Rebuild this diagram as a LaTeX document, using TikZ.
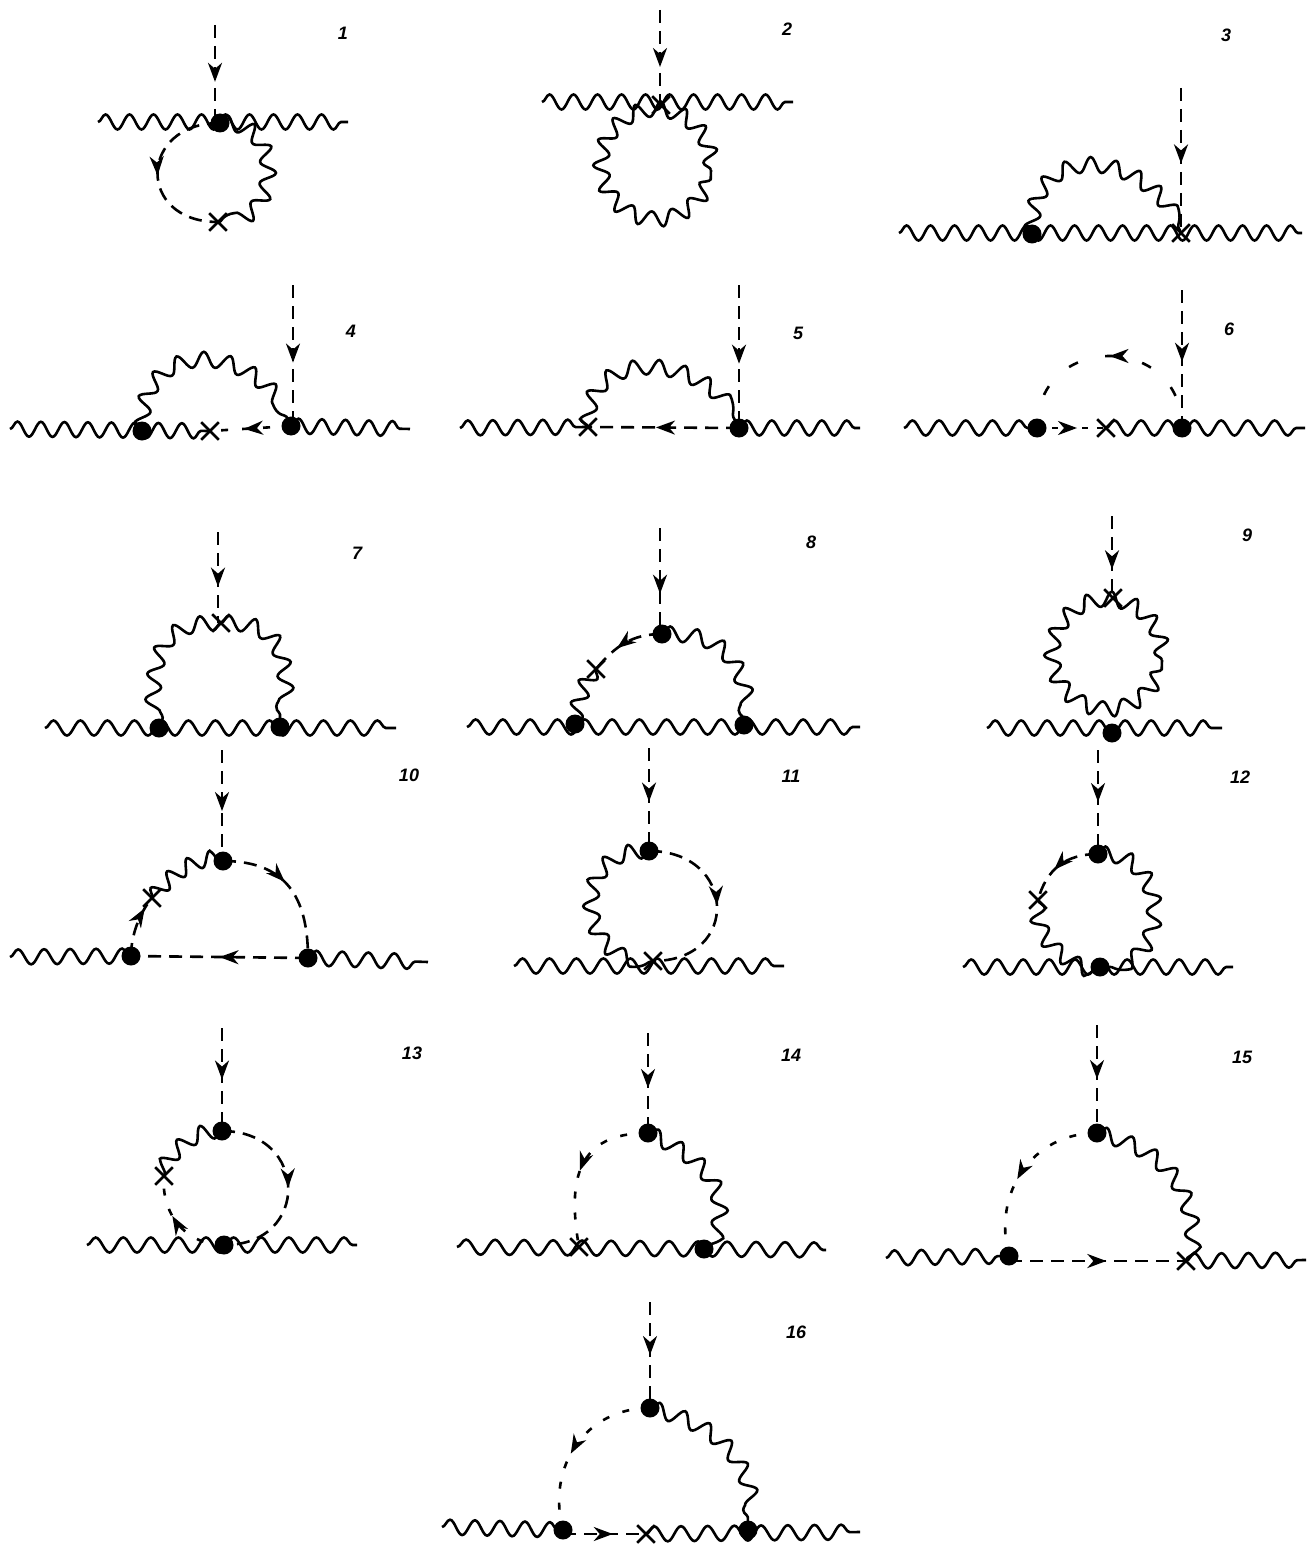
\documentclass[tikz,border=0pt]{standalone}
\usepackage{fontspec}
\setmainfont{Liberation Sans}
\usetikzlibrary{arrows.meta,decorations.pathmorphing,decorations.markings,shapes.misc}
\tikzset{
  wavy/.style={decorate,decoration={snake,segment length=#1,amplitude=7.5pt}},
  wavy/.default=26pt,
  scalar/.style={dash pattern=on 13pt off 8pt},
  ghost/.style={dash pattern=on 7pt off 14pt},
  flow/.style={postaction={decorate,decoration={markings,
    mark=at position #1 with {\arrow{Stealth[length=19pt,width=14pt,inset=6pt]}}}}},
  vertex/.style={circle,fill=black,minimum size=19pt,inner sep=0pt},
  crossing/.style={cross out,draw,minimum size=15pt,inner sep=0pt},
  number/.style={font=\fontsize{18}{18}\selectfont\bfseries\itshape}
}
\begin{document}
\begin{tikzpicture}[x=1pt,y=-1pt,line width=2.6pt]
\useasboundingbox (0,0) rectangle (1315,1546);

% numbers
\node[number] (lab1) at (343,33) {1};
\node[number] (lab2) at (787,29) {2};
\node[number] (lab3) at (1226,35) {3};
\node[number] (lab4) at (351,331) {4};
\node[number] (lab5) at (798,333) {5};
\node[number] (lab6) at (1229,329) {6};
\node[number] (lab7) at (357,553) {7};
\node[number] (lab8) at (811,542) {8};
\node[number] (lab9) at (1247,535) {9};
\node[number] (lab10) at (409,775) {10};
\node[number] (lab11) at (791,776) {11};
\node[number] (lab12) at (1240,777) {12};
\node[number] (lab13) at (412,1053) {13};
\node[number] (lab14) at (791,1055) {14};
\node[number] (lab15) at (1242,1057) {15};
\node[number] (lab16) at (796,1332) {16};

% 1
\coordinate (in1) at (215,25);
\coordinate (l1) at (98,122);
\coordinate (r1) at (348,122);
\node[vertex] (v1) at (220,123) {};
\node[crossing] (x1) at (218,222) {};
\draw[wavy=24pt] (l1) -- (r1);
\draw[scalar,flow=0.58] (in1) -- (in1 |- v1);
\draw[scalar,flow=0.52] (v1.center) to[out=180,in=180,distance=82] (x1.center);
\draw[wavy=24pt] (v1.center) to[out=0,in=0,distance=58] (x1.center);

% 2
\coordinate (in2) at (660,10);
\coordinate (l2) at (542,102);
\coordinate (r2) at (793,102);
\coordinate (c2) at (656,170);
\node[crossing] (x2) at (661,105) {};
\draw[wavy=24pt] (l2) -- (r2);
\draw[scalar,flow=0.6] (in2) -- (in2 |- x2);
\draw[wavy=23pt] (c2) circle[radius=55pt];

% 3
\coordinate (in3) at (1181,88);
\coordinate (l3) at (899,233);
\coordinate (r3) at (1302,233);
\node[vertex] (v3) at (1032,234) {};
\node[crossing] (x3) at (1181,233) {};
\draw[wavy=24pt] (l3) -- (r3);
\draw[scalar,flow=0.52] (in3) -- (x3.center);
\draw[wavy=24pt] (v3.center) to[out=90,in=115,distance=88] (x3.center);

% 4
\coordinate (in4) at (293,285);
\coordinate (l4) at (10,429);
\coordinate (r4) at (410,429);
\node[vertex] (a4) at (142,431) {};
\node[vertex] (b4) at (291,426) {};
\node[crossing] (x4) at (210,431) {};
\draw[wavy=23.5pt] (l4) -- (x4.center);
\draw[wavy=23.5pt] (b4.center) -- (r4);
\draw[scalar,flow=0.55] (in4) -- (in4 |- b4);
\draw[ghost,flow=0.58] (b4.center) -- (x4.center);
\draw[wavy=25pt] (a4.center) to[out=90,in=115,distance=88] (b4.center);

% 5
\coordinate (in5) at (739,285);
\coordinate (l5) at (460,428);
\coordinate (r5) at (860,428);
\node[vertex] (v5) at (739,428) {};
\node[crossing] (x5) at (588,427) {};
\draw[wavy=25pt] (l5) -- (x5.center);
\draw[wavy=25pt] (v5.center) -- (r5);
\draw[scalar,flow=0.55] (in5) -- (v5.center);
\draw[scalar,flow=0.55] (v5.center) -- (x5.center);
\draw[wavy=25pt] (x5.center) to[out=90,in=115,distance=76] (v5.center);

% 6
\coordinate (in6) at (1182,290);
\coordinate (l6) at (904,428);
\coordinate (r6) at (1305,428);
\node[vertex] (a6) at (1037,428) {};
\node[vertex] (b6) at (1182,428) {};
\node[crossing] (x6) at (1106,428) {};
\draw[wavy=26.7pt] (l6) -- (a6.center);
\draw[wavy=26.7pt] (x6.center) -- (r6);
\draw[scalar,flow=0.52] (in6) -- (b6.center);
\draw[dash pattern=on 6pt off 9pt,flow=0.58] (a6.center) -- (x6.center);
\draw[dash pattern=on 10pt off 28pt,dash phase=5pt,flow=0.5] (b6.center) to[out=90,in=90,distance=96] (a6.center);

% 7
\coordinate (in7) at (218,532);
\coordinate (l7) at (45,728);
\coordinate (r7) at (396,728);
\node[vertex] (a7) at (159,728) {};
\node[vertex] (b7) at (280,727) {};
\node[crossing] (x7) at (221,623) {};
\draw[wavy=27pt] (l7) -- (r7);
\draw[scalar,flow=0.6] (in7) -- (in7 |- x7);
\draw[wavy=25pt] (x7.center) to[out=180,in=90,distance=62] (a7.center);
\draw[wavy=25pt] (x7.center) to[out=0,in=90,distance=62] (b7.center);

% 8
\coordinate (in8) at (660,528);
\coordinate (l8) at (467,727);
\coordinate (r8) at (860,727);
\node[vertex] (v8) at (662,634) {};
\node[vertex] (a8) at (575,724) {};
\node[vertex] (b8) at (744,725) {};
\node[crossing] (x8) at (596,669) {};
\draw[wavy=27.3pt] (l8) -- (r8);
\draw[scalar,flow=0.62] (in8) -- (in8 |- v8);
\draw[wavy] (v8.center) to[out=0,in=95,distance=60] (b8.center);
\draw[scalar,flow=0.62] (v8.center) to[out=180,in=50,distance=30] (x8.center);
\draw[wavy=22pt] (x8.center) to[out=230,in=70,distance=20] (a8.center);

% 9
\coordinate (in9) at (1112,516);
\coordinate (l9) at (987,728);
\coordinate (r9) at (1222,728);
\coordinate (c9) at (1107,660);
\node[vertex] (v9) at (1112,733) {};
\node[crossing] (x9) at (1113,598) {};
\draw[wavy] (l9) -- (r9);
\draw[scalar,flow=0.65] (in9) -- (in9 |- x9);
\draw[wavy=23pt] (c9) circle[radius=55pt];

% 10
\coordinate (in10) at (222,750);
\coordinate (l10) at (10,957);
\coordinate (r10) at (428,962);
\node[vertex] (v10) at (223,861) {};
\node[vertex] (a10) at (131,956) {};
\node[vertex] (b10) at (308,958) {};
\node[crossing] (x10) at (152,898) {};
\draw[wavy] (l10) -- (a10.center);
\draw[wavy] (b10.center) -- (r10);
\draw[scalar,flow=0.55] (in10) -- (in10 |- v10);
\draw[scalar,flow=0.5] (b10.center) -- (a10.center);
\draw[scalar,flow=0.45] (v10.center) to[out=0,in=90,distance=62] (b10.center);
\draw[scalar,flow=0.8] (a10.center) to[out=90,in=230,distance=20] (x10.center);
\draw[wavy=22pt] (x10.center) to[out=50,in=180,distance=30] (v10.center);

% 11
\coordinate (in11) at (649,748);
\coordinate (l11) at (514,966);
\coordinate (r11) at (784,966);
\node[vertex] (v11) at (649,851) {};
\node[crossing] (x11) at (653,961) {};
\draw[wavy=27pt] (l11) -- (r11);
\draw[scalar,flow=0.52] (in11) -- (v11.center);
\draw[wavy=24pt] (v11.center) to[out=180,in=180,distance=72] (x11.center);
\draw[scalar,flow=0.5] (v11.center) to[out=0,in=0,distance=88] (x11.center);

% 12
\coordinate (in12) at (1098,750);
\coordinate (l12) at (963,967);
\coordinate (r12) at (1233,967);
\node[vertex] (v12) at (1098,854) {};
\node[vertex] (a12) at (1100,967) {};
\node[crossing] (x12) at (1038,900) {};
\draw[wavy] (l12) -- (r12);
\draw[scalar,flow=0.5] (in12) -- (v12.center);
\draw[wavy=24pt] (v12.center) to[out=0,in=0,distance=66] (a12.center);
\draw[scalar,flow=0.58] (v12.center) to[out=180,in=75,distance=32] (x12.center);
\draw[wavy=24pt] (x12.center) to[out=265,in=165,distance=34] (a12.center);

% 13
\coordinate (in13) at (222,1028);
\coordinate (l13) at (87,1245);
\coordinate (r13) at (357,1245);
\node[vertex] (v13) at (222,1131) {};
\node[vertex] (a13) at (224,1245) {};
\node[crossing] (x13) at (164,1176) {};
\draw[wavy=27.6pt] (l13) -- (r13);
\draw[scalar,flow=0.5] (in13) -- (v13.center);
\draw[scalar,flow=0.5] (v13.center) to[out=0,in=0,distance=87] (a13.center);
\draw[wavy=24pt] (v13.center) to[out=180,in=60,distance=25] (x13.center);
\draw[ghost,flow=0.6] (a13.center) to[out=180,in=265,distance=38] (x13.center);

% 14
\coordinate (in14) at (648,1033);
\coordinate (l14) at (457,1247);
\coordinate (r14) at (826,1250);
\node[vertex] (v14) at (648,1133) {};
\node[vertex] (a14) at (704,1249) {};
\node[crossing] (x14) at (579,1247) {};
\draw[wavy=29pt] (l14) -- (r14);
\draw[scalar,flow=0.55] (in14) -- (v14.center);
\draw[wavy] (v14.center) to[out=-25,in=65,distance=62] (a14.center);
\draw[ghost,flow=0.52] (v14.center) to[out=180,in=100,distance=70] (x14.center);

% 15
\coordinate (in15) at (1097,1025);
\coordinate (l15) at (886,1258);
\coordinate (r15) at (1306,1260);
\node[vertex] (v15) at (1097,1133) {};
\node[vertex] (a15) at (1009,1256) {};
\node[crossing] (x15) at (1186,1261) {};
\draw[wavy=27pt] (l15) -- (a15.center);
\draw[wavy=27pt] (x15.center) -- (r15);
\draw[scalar,flow=0.5] (in15) -- (v15.center);
\draw[scalar,flow=0.55] (a15 |- x15) -- (x15.center);
\draw[wavy] (v15.center) to[out=-15,in=85,distance=70] (x15.center);
\draw[ghost,flow=0.55] (v15.center) to[out=180,in=105,distance=65] (a15.center);

% 16
\coordinate (in16) at (650,1302);
\coordinate (l16) at (442,1527);
\coordinate (r16) at (860,1532);
\node[vertex] (v16) at (650,1408) {};
\node[vertex] (a16) at (563,1530) {};
\node[vertex] (b16) at (748,1530) {};
\node[crossing] (x16) at (646,1534) {};
\draw[wavy=25pt] (l16) -- (a16.center);
\draw[wavy=26.7pt] (x16.center) -- (r16);
\draw[scalar,flow=0.5] (in16) -- (v16.center);
\draw[scalar,flow=0.6] (a16 |- x16) -- (x16.center);
\draw[wavy] (v16.center) to[out=-15,in=90,distance=70] (b16.center);
\draw[ghost,flow=0.55] (v16.center) to[out=180,in=105,distance=65] (a16.center);

\end{tikzpicture}
\end{document}
